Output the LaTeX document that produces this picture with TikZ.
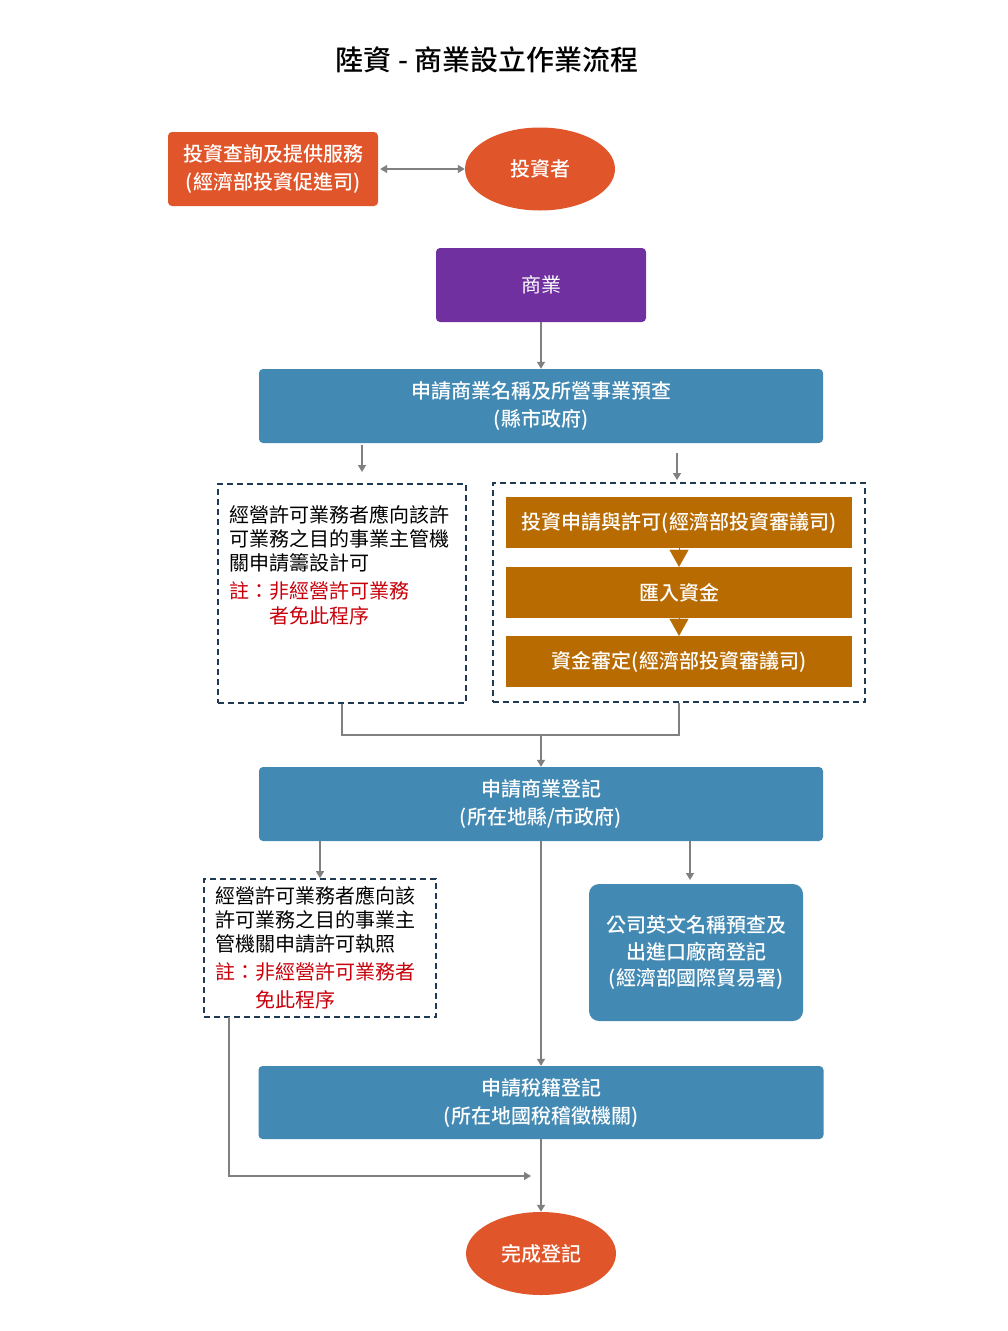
\documentclass[tikz,border=0pt]{standalone}
\usepackage{fontspec}
\setmainfont{Noto Sans CJK TC}[BoldFont={Noto Sans CJK TC Medium}]
\usetikzlibrary{arrows.meta,shapes.geometric}

\definecolor{orangec}{HTML}{E0552A}
\definecolor{purplec}{HTML}{7030A0}
\definecolor{bluec}{HTML}{4289B3}
\definecolor{brownc}{HTML}{B86B00}
\definecolor{navyc}{HTML}{1F3A52}
\definecolor{redc}{HTML}{C8000A}
\definecolor{linec}{HTML}{808080}

\newcommand{\boxfont}{\fontsize{20}{28}\selectfont\bfseries}
\newcommand{\notefont}{\fontsize{20}{24}\selectfont}

\tikzset{
  box/.style={rectangle, rounded corners=4pt, inner sep=0pt, text=white, font=\boxfont, align=center},
  oval/.style={ellipse, fill=orangec, inner sep=0pt, minimum width=150pt, minimum height=83pt, text=white, font=\boxfont},
  stepbox/.style={rectangle, fill=brownc, inner sep=0pt, minimum width=346pt, minimum height=51pt, text=white, font=\boxfont},
  dashbox/.style={rectangle, draw=navyc, line width=1.6pt, dash pattern=on 6pt off 4pt, inner sep=0pt},
  note/.style={inner sep=0pt, align=left, font=\notefont, anchor=north west},
  arr/.style={linec, line width=1.5pt, -{Triangle[length=7pt,width=8pt]}},
  link/.style={linec, line width=1.5pt},
  pointer/.style={brownc, line width=0.1pt, -{Triangle[length=17pt,width=19pt]}}
}

\begin{document}
\begin{tikzpicture}[x=1pt,y=-1pt]
\useasboundingbox (0,0) rectangle (1008,1331);

% Title
\node[font=\fontsize{28}{32}\selectfont\bfseries] (ttl) at (487,60) {陸資 - 商業設立作業流程};

% Inquiry and investor
\node[box, fill=orangec, minimum width=210pt, minimum height=74pt] (inquiry) at (273,169) {投資查詢及提供服務\\(經濟部投資促進司)};
\node[oval] (investor) at (540,169) {投資者};
\draw[linec, line width=1.5pt, {Triangle[length=7pt,width=8pt]}-{Triangle[length=7pt,width=8pt]}] (inquiry.east) ++(2,0) coordinate (invL) -- (investor.west);

% Business
\node[box, fill=purplec, font=\fontsize{20}{28}\selectfont, minimum width=210pt, minimum height=74pt] (biz) at (541,285) {商業};
\node[box, fill=bluec, minimum width=564pt, minimum height=74pt] (nameck) at (541,406) {申請商業名稱及所營事業預查\\(縣市政府)};
\draw[arr] (biz.south) -- (nameck.north);

% Permit (left) and investment steps (right)
\node[dashbox, minimum width=248pt, minimum height=219pt] (permitA) at (342,593.5) {};
\node[note] (permitAtxt) at (229,505) {經營許可業務者應向該許\\可業務之目的事業主管機\\關申請籌設計可\\[4pt]
  \textcolor{redc}{註：非經營許可業務}\\[1pt]
  \textcolor{redc}{\hspace*{2em}者免此程序}};
\node[dashbox, minimum width=372pt, minimum height=219pt] (fundbox) at (679,592.5) {};
\node[stepbox] (apply) at (679,522.5) {投資申請與許可(經濟部投資審議司)};
\node[stepbox] (remit) at (679,592.5) {匯入資金};
\node[stepbox] (verify) at (679,661.5) {資金審定(經濟部投資審議司)};
\draw[pointer] (apply.south) -- (remit.north);
\draw[pointer] (remit.south) -- (verify.north);

\coordinate (aA) at (362,445);
\coordinate (aB) at (677,453);
\draw[arr] (aA) -- (362,472);
\draw[arr] (aB) -- (677,480);

% Join
\node[box, fill=bluec, minimum width=564pt, minimum height=74pt] (reg) at (541,804) {申請商業登記\\(所在地縣/市政府)};
\coordinate (join) at (541,735);
\draw[link] (permitA.south) |- (join) -| (fundbox.south);
\draw[arr] (join) -- (reg.north);

% Registration branches
\node[dashbox, minimum width=232pt, minimum height=138pt] (permitB) at (320,948) {};
\node[note] (permitBtxt) at (215,886) {經營許可業務者應向該\\許可業務之目的事業主\\管機關申請許可執照\\[4pt]
  \textcolor{redc}{註：非經營許可業務者}\\[4pt]
  \textcolor{redc}{\hspace*{2em}免此程序}};
\node[box, fill=bluec, rounded corners=10pt, minimum width=214pt, minimum height=137pt, font=\fontsize{20}{26.5}\selectfont\bfseries] (trade) at (696,952.5) {公司英文名稱預查及\\出進口廠商登記\\(經濟部國際貿易署)};
\node[box, fill=bluec, minimum width=565pt, minimum height=73pt] (tax) at (541,1102.5) {申請稅籍登記\\(所在地國稅稽徵機關)};
\node[oval] (done) at (541,1253.5) {完成登記};

\draw[arr] (reg.south -| permitB.north) -- (permitB.north);
\coordinate (tB) at (690,841);
\draw[arr] (tB) -- (690,880);
\draw[arr] (reg.south) -- (tax.north);
\draw[arr] (tax.south) -- (done.north);

\coordinate (pB) at (229,1017);
\coordinate (pEnd) at (531,1176);
\draw[arr] (pB) |- (pEnd);

\end{tikzpicture}
\end{document}
